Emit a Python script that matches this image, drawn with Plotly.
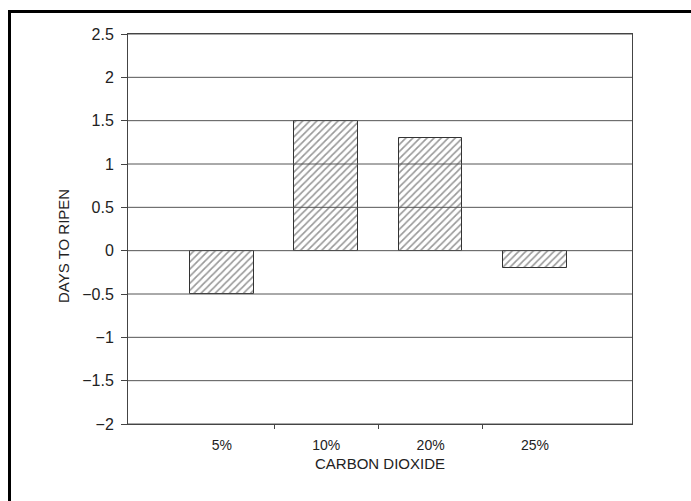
import plotly.graph_objects as go

categories = ["5%", "10%", "20%", "25%"]
days_to_ripen = [-0.5, 1.5, 1.3, -0.2]
y_ticks = [-2, -1.5, -1, -0.5, 0, 0.5, 1, 1.5, 2, 2.5]
y_tick_text = ["\u22122", "\u22121.5", "\u22121", "\u22120.5", "0", "0.5", "1", "1.5", "2", "2.5"]

x_idx = list(range(len(categories)))
boundaries = [i + 0.5 for i in x_idx[:-1]]

W, H = 691, 501
ML, MR, MT, MB = 128, 59, 34, 77
PW, PH = W - ML - MR, H - MT - MB

def px_x(p):
    return (p - ML) / PW

def px_y(p):
    return (H - MB - p) / PH

fig = go.Figure()
fig.add_trace(go.Bar(
    x=x_idx, y=days_to_ripen, width=0.61,
    marker=dict(color="white",
                line=dict(color="#333333", width=1),
                pattern=dict(shape="/", fgcolor="#333333", bgcolor="white",
                             size=5, solidity=0.33)),
    showlegend=False,
))

font = "Liberation Sans, Arial, sans-serif"

# gridlines drawn above the bars, as in the reference
grid_shapes = [
    dict(type="line", xref="paper", yref="y", x0=0, x1=1, y0=v, y1=v,
         line=dict(color="#555555", width=1), layer="above")
    for v in y_ticks
]

fig.update_layout(
    width=W, height=H,
    margin=dict(l=ML, r=MR, t=MT, b=MB, pad=0),
    paper_bgcolor="white", plot_bgcolor="white",
    font=dict(family=font, color="#222222", size=14),
    bargap=0,
    xaxis=dict(
        range=[-0.9, 3.93],
        tickmode="array", tickvals=x_idx, ticktext=categories,
        ticks="", showgrid=False, zeroline=False,
        showline=True, linecolor="#444444", linewidth=1, mirror=True,
        tickfont=dict(size=14, family=font, color="#222222"),
        ticklabelstandoff=8,
        minor=dict(tickmode="array", tickvals=boundaries, ticks="outside",
                   ticklen=4, tickcolor="#444444", tickwidth=1, showgrid=False),
    ),
    yaxis=dict(
        range=[-2, 2.5],
        tickmode="array", tickvals=y_ticks, ticktext=y_tick_text,
        ticks="outside", ticklen=6, tickcolor="#444444", tickwidth=1,
        showgrid=False, zeroline=False,
        showline=True, linecolor="#444444", linewidth=1, mirror=True,
        tickfont=dict(size=16, family=font, color="#222222"),
        ticklabelstandoff=4,
    ),
    annotations=[
        dict(text="CARBON DIOXIDE", xref="paper", yref="paper",
             x=0.5, y=px_y(463), xanchor="center", yanchor="middle",
             showarrow=False, font=dict(size=15, family=font, color="#222222")),
        dict(text="DAYS TO RIPEN", xref="paper", yref="paper",
             x=px_x(63), y=px_y(246), xanchor="center", yanchor="middle",
             textangle=-90, showarrow=False,
             font=dict(size=15, family=font, color="#222222")),
    ],
    shapes=grid_shapes + [
        dict(type="rect", xref="paper", yref="paper",
             x0=px_x(9.5), x1=px_x(720), y0=px_y(530), y1=px_y(11.5),
             line=dict(color="black", width=3), fillcolor="rgba(0,0,0,0)",
             layer="above"),
    ],
)

fig.write_html("out.html")
